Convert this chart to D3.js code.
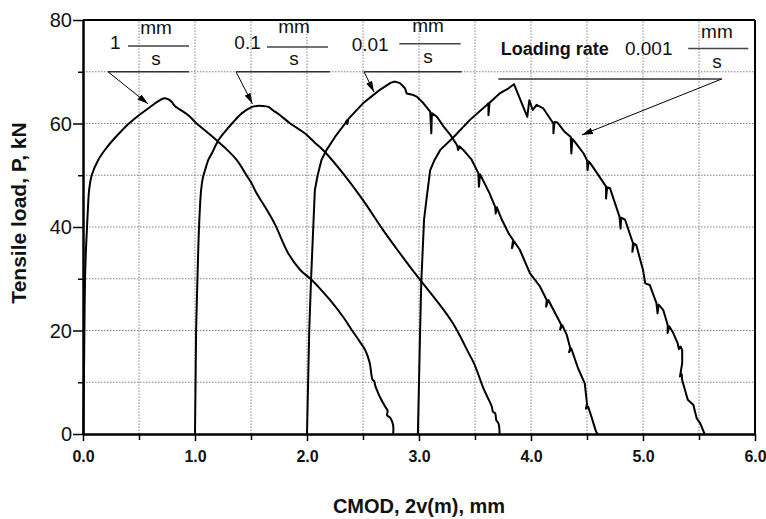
<!DOCTYPE html>
<html><head><meta charset="utf-8">
<script src="https://cdn.jsdelivr.net/npm/d3@7"></script>
<style>body{margin:0;background:#fff}svg{display:block}text{font-family:Arial,"Liberation Sans",sans-serif}</style>
</head><body><svg id="c" width="766" height="519"></svg>
<script>
// Loading rate labels
const rateLabels = ["1", "0.1", "0.01", "0.001"];
// x tick labels / y tick labels
const xTicks = [0, 1, 2, 3, 4, 5, 6];
const xMinorTicks = [0.5, 1.5, 2.5, 3.5, 4.5, 5.5];
const yTicks = [0, 20, 40, 60, 80];
const yMinorTicks = [10, 30, 50, 70];

// Series: [CMOD (mm, shifted), load P (kN)]
const series1 = [[0.003,0],[0.008,10],[0.012,19],[0.018,30],[0.027,36],[0.036,40],[0.045,44],[0.054,47],[0.078,50],[0.137,53],[0.21,55.3],[0.28,57.1],[0.345,58.6],[0.405,59.9],[0.5,61.6],[0.6,63.2],[0.68,64.4],[0.726,64.9],[0.76,64.7],[0.79,64.2],[0.82,63.4],[0.851,62.9],[0.94,61.6],[1.015,60],[1.12,58.1],[1.19,56.8],[1.268,55.3],[1.37,53],[1.46,50],[1.506,48.4],[1.55,46.5],[1.625,43.9],[1.714,40.5],[1.833,34.9],[1.94,31.7],[2.04,29.8],[2.12,28],[2.205,25.9],[2.32,22.7],[2.4,20.1],[2.46,18.2],[2.52,16.2],[2.56,13.7],[2.575,11.5],[2.585,10.5],[2.60,10.2],[2.61,9.3],[2.63,8.2],[2.65,7.2],[2.7,5.2],[2.72,4.5],[2.715,3.6],[2.74,3.2],[2.76,2.4],[2.77,1.5],[2.77,0]];
const series2 = [[1.0,0],[1.005,10],[1.01,20],[1.022,30],[1.036,40],[1.054,47],[1.07,49.5],[1.09,51],[1.12,53],[1.15,54.2],[1.21,56.8],[1.27,58.5],[1.33,60],[1.42,62],[1.51,63.2],[1.55,63.4],[1.6,63.4],[1.655,63.2],[1.7,62.5],[1.76,61.6],[1.85,60],[1.98,58.1],[2.07,56.3],[2.16,54.5],[2.32,50.4],[2.5,45.2],[2.68,39.4],[2.8,35.8],[2.92,32.3],[3.01,29.8],[3.12,26.8],[3.22,24],[3.3,21.5],[3.37,18.8],[3.43,16.2],[3.49,13.7],[3.53,11.5],[3.57,9.1],[3.61,7.2],[3.65,5.3],[3.66,4.3],[3.68,4.0],[3.69,2.7],[3.71,2.0],[3.72,0]];
const series3 = [[2.0,0],[2.01,10],[2.02,20],[2.036,29.8],[2.056,40],[2.07,47.1],[2.095,50],[2.13,53],[2.175,54.9],[2.25,57.4],[2.34,60],[2.355,60.6],[2.36,59.9],[2.37,60.9],[2.5,63.9],[2.65,66.5],[2.75,67.9],[2.786,68.1],[2.83,67.8],[2.875,66.8],[2.89,65.8],[2.95,65.5],[2.98,65.2],[3.04,63.9],[3.10,62.3],[3.11,58.1],[3.115,62.0],[3.16,61.3],[3.22,59.4],[3.28,57.8],[3.34,55.8],[3.35,54.9],[3.36,55.6],[3.395,54.9],[3.47,53],[3.53,50.4],[3.535,47.8],[3.545,50.2],[3.57,49.1],[3.63,46.5],[3.68,43.9],[3.685,42.6],[3.695,43.8],[3.74,41.4],[3.8,38.8],[3.84,37.5],[3.83,35.9],[3.85,37.2],[3.90,35.6],[3.99,31.1],[4.08,28.5],[4.14,25.9],[4.135,24.6],[4.155,25.9],[4.2,24],[4.27,21.1],[4.26,20.2],[4.28,21],[4.32,19.1],[4.35,16.6],[4.34,15.8],[4.36,16.5],[4.42,12.7],[4.48,9.8],[4.5,5.8],[4.49,4.9],[4.51,5.3],[4.54,3.3],[4.58,0.5],[4.595,0]];
const series4 = [[2.99,0],[3.0,10],[3.01,20],[3.02,29.1],[3.045,41.4],[3.07,45.9],[3.10,51],[3.14,53],[3.19,54.9],[3.31,57.4],[3.455,60.7],[3.6,63.5],[3.62,63.9],[3.62,61.6],[3.63,64.0],[3.72,65.8],[3.80,66.8],[3.848,67.6],[3.967,61.3],[3.985,64.5],[4.015,62.6],[4.05,63.6],[4.11,62.9],[4.2,60],[4.2,58.1],[4.21,60.3],[4.235,60.2],[4.30,58.4],[4.355,57.4],[4.36,54.2],[4.37,57.0],[4.39,56.5],[4.47,54.2],[4.5,52.9],[4.505,51],[4.515,52.7],[4.53,52.3],[4.59,50.4],[4.67,47.8],[4.67,45.5],[4.68,47.7],[4.705,47.5],[4.79,42],[4.80,39.7],[4.805,41.8],[4.84,41.4],[4.91,36.9],[4.905,35.2],[4.92,36.8],[4.94,36.5],[5.0,31.7],[5.02,29.1],[5.06,28.8],[5.12,25.3],[5.13,23.3],[5.14,25.0],[5.18,24],[5.22,21.1],[5.22,19.5],[5.235,20.8],[5.27,19.5],[5.31,17.5],[5.32,16.4],[5.335,16.9],[5.35,16.2],[5.35,13.7],[5.33,11.1],[5.345,11.6],[5.35,10.4],[5.40,6.6],[5.45,5.6],[5.46,4.7],[5.48,3.0],[5.51,2.1],[5.55,0]];
const smoothSeries = [series1, series2];
const jaggedSeries = [series3, series4];

const svg = d3.select("#c");
const x = d3.scaleLinear().domain([0, 6]).range([83, 755]);
const y = d3.scaleLinear().domain([0, 80]).range([434, 20]);
const font = 'Arial,"Liberation Sans",sans-serif';

// grid
const grid = svg.append("g").attr("stroke", "#808080").attr("stroke-width", 1).attr("stroke-dasharray", "1.5,1.5");
xMinorTicks.concat(xTicks.slice(1, -1)).forEach(v => grid.append("line").attr("x1", x(v)).attr("x2", x(v)).attr("y1", y(0)).attr("y2", y(80)));
yMinorTicks.concat(yTicks.slice(1, -1)).forEach(v => grid.append("line").attr("x1", x(0)).attr("x2", x(6)).attr("y1", y(v)).attr("y2", y(v)));

// frame top and right
svg.append("line").attr("x1", x(0)).attr("x2", x(6)).attr("y1", y(80)).attr("y2", y(80)).attr("stroke", "#000").attr("stroke-width", 2);
svg.append("line").attr("x1", x(6)).attr("x2", x(6)).attr("y1", y(0)).attr("y2", y(80)).attr("stroke", "#000").attr("stroke-width", 2);

// axes
const xAxis = svg.append("g").attr("transform", `translate(0,${y(0)})`)
  .call(d3.axisBottom(x).tickValues(xTicks).tickFormat(d3.format(".1f")).tickSize(7).tickSizeOuter(0));
svg.append("g").attr("transform", `translate(0,${y(0)})`)
  .call(d3.axisBottom(x).tickValues(xMinorTicks).tickFormat("").tickSize(6).tickSizeOuter(0));
const yAxis = svg.append("g").attr("transform", `translate(${x(0)},0)`)
  .call(d3.axisLeft(y).tickValues(yTicks).tickSize(10).tickPadding(1).tickSizeOuter(0));
svg.append("g").attr("transform", `translate(${x(0)},0)`)
  .call(d3.axisLeft(y).tickValues(yMinorTicks).tickFormat("").tickSize(5).tickSizeOuter(0));
svg.selectAll(".domain").attr("stroke", "#000").attr("stroke-width", 2);
svg.selectAll(".tick line").attr("stroke", "#000").attr("stroke-width", 1.5);
xAxis.selectAll("text").attr("font-family", font).attr("font-size", 16).attr("font-weight", "bold").attr("fill", "#111").attr("dy", 0).attr("y", 28);
yAxis.selectAll("text").attr("font-family", font).attr("font-size", 20).attr("fill", "#111").attr("dy", "0.34em");

// axis titles
svg.append("text").attr("x", 419).attr("y", 513).attr("text-anchor", "middle")
  .attr("font-size", 20).attr("font-weight", "bold").attr("fill", "#111").text("CMOD, 2v(m), mm");
svg.append("text").attr("transform", `translate(26,213) rotate(-90)`).attr("text-anchor", "middle")
  .attr("font-size", 21).attr("font-weight", "bold").attr("fill", "#111").text("Tensile load, P, kN");

// curves
const smoothLine = d3.line().x(d => x(d[0])).y(d => y(d[1])).curve(d3.curveCatmullRom.alpha(0.5));
const line = d3.line().x(d => x(d[0])).y(d => y(d[1]));
svg.append("g").selectAll("path").data(smoothSeries).join("path")
  .attr("d", smoothLine).attr("fill", "none").attr("stroke", "#000").attr("stroke-width", 2).attr("stroke-linejoin", "round");
svg.append("g").selectAll("path").data(jaggedSeries).join("path")
  .attr("d", line).attr("fill", "none").attr("stroke", "#000").attr("stroke-width", 2).attr("stroke-linejoin", "round");

// annotations
svg.append("defs").append("marker").attr("id", "ah").attr("viewBox", "0 0 10 6").attr("refX", 10).attr("refY", 3)
  .attr("markerWidth", 11).attr("markerHeight", 6.5).attr("markerUnits", "userSpaceOnUse").attr("orient", "auto")
  .append("path").attr("d", "M0,0L10,3L0,6Z").attr("fill", "#000");

const ann = [
  {num: rateLabels[0], nx: 0.241, anchor: "start", ny: 74.4, f1: 0.402, f2: 0.946, fy: 75.0, mx: 0.652, my: 77.2, sy: 71.3, h1: 0.223, h2: 0.946, hy: 70, a0: [0.223, 70], a1: [0.58, 63.8]},
  {num: rateLabels[1], nx: 1.587, anchor: "end", ny: 74.3, f1: 1.643, f2: 2.188, fy: 74.8, mx: 1.885, my: 77.4, sy: 71.3, h1: 1.366, h2: 2.205, hy: 70, a0: [1.366, 70], a1: [1.513, 63.8]},
  {num: rateLabels[2], nx: 2.399, anchor: "start", ny: 74.0, f1: 2.824, f2: 3.372, fy: 75.4, mx: 3.08, my: 77.6, sy: 71.6, h1: 2.509, h2: 3.381, hy: 70, a0: [2.509, 70], a1: [2.598, 66.1]},
  {num: rateLabels[3], nx: 4.839, anchor: "start", ny: 73.2, f1: 5.404, f2: 5.94, fy: 74.5, mx: 5.66, my: 76.5, sy: 70.7, h1: 3.708, h2: 5.703, hy: 68.6, a0: [5.703, 68.6], a1: [4.455, 57.8]}
];
const ag = svg.append("g");
ann.forEach(a => {
  ag.append("text").attr("x", x(a.nx)).attr("y", y(a.ny)).attr("text-anchor", a.anchor).attr("font-size", 19).attr("fill", "#111").text(a.num);
  ag.append("line").attr("x1", x(a.f1)).attr("x2", x(a.f2)).attr("y1", y(a.fy)).attr("y2", y(a.fy)).attr("stroke", "#444").attr("stroke-width", 1.5);
  ag.append("text").attr("x", x(a.mx)).attr("y", y(a.my)).attr("text-anchor", "middle").attr("font-size", 19).attr("fill", "#111").text("mm");
  ag.append("text").attr("x", x(a.mx)).attr("y", y(a.sy)).attr("text-anchor", "middle").attr("font-size", 19).attr("fill", "#111").text("s");
  ag.append("line").attr("x1", x(a.h1)).attr("x2", x(a.h2)).attr("y1", y(a.hy)).attr("y2", y(a.hy)).attr("stroke", "#333").attr("stroke-width", 1.5);
  ag.append("line").attr("x1", x(a.a0[0])).attr("y1", y(a.a0[1])).attr("x2", x(a.a1[0])).attr("y2", y(a.a1[1]))
    .attr("stroke", "#000").attr("stroke-width", 1).attr("marker-end", "url(#ah)");
});
ag.append("text").attr("x", x(3.729)).attr("y", y(73.2)).attr("font-size", 18).attr("font-weight", "bold").attr("fill", "#111").text("Loading rate");
</script></body></html>
